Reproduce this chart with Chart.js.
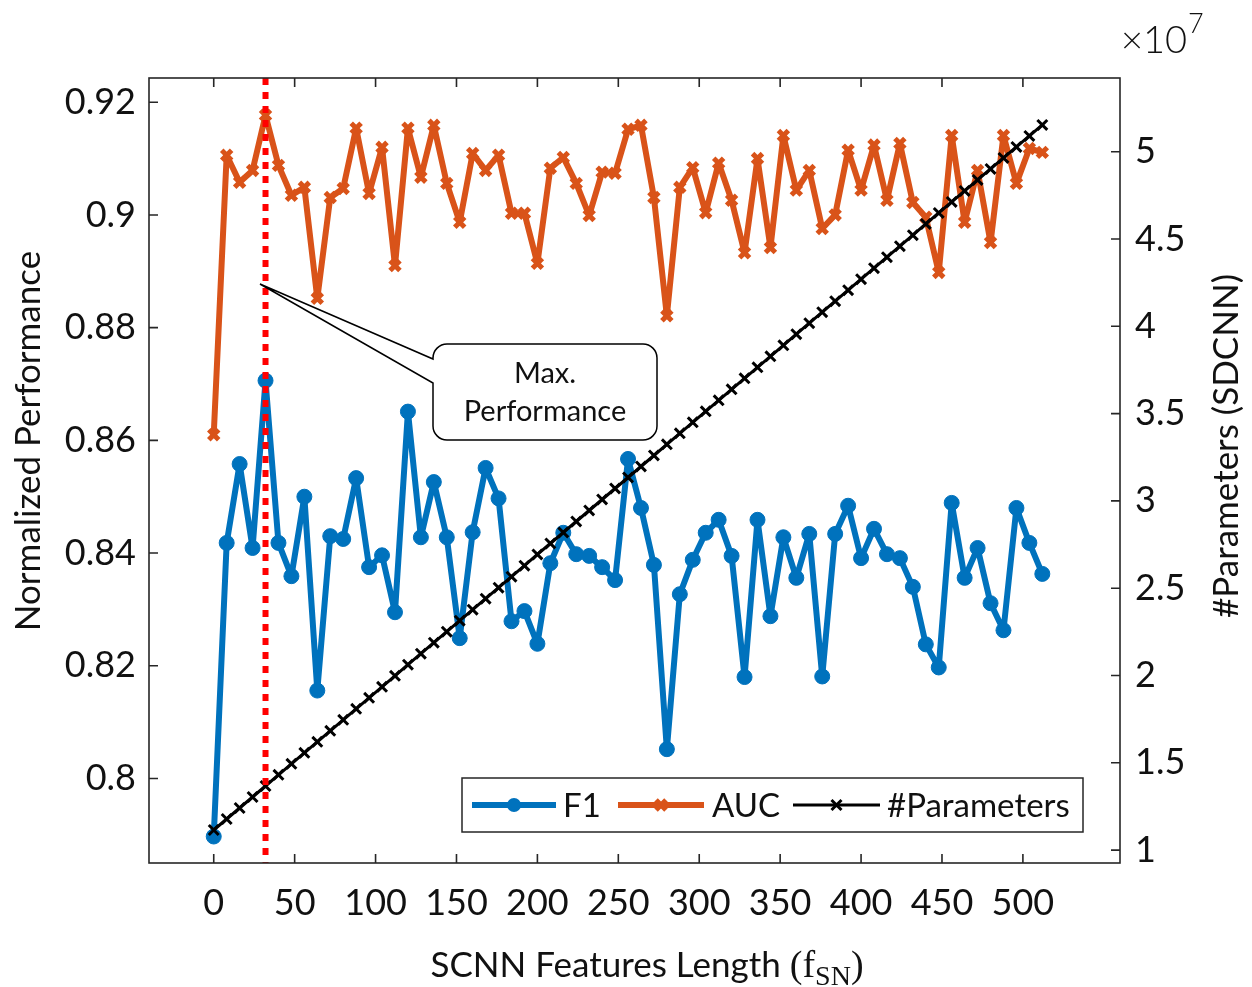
<!DOCTYPE html>
<html>
<head>
<meta charset="utf-8">
<script src="https://cdn.jsdelivr.net/npm/chart.js@4.4.1/dist/chart.umd.min.js"></script>
<style>
  html, body { margin:0; padding:0; background:#fff; }
  canvas { display:block; }
</style>
</head>
<body>
<canvas id="chart" width="1252" height="987"></canvas>
<script>
// ── data ─────────────────────────────────────
const features = [0,8,16,24,32,40,48,56,64,72,80,88,96,104,112,120,128,136,144,152,160,168,176,184,192,200,
  208,216,224,232,240,248,256,264,272,280,288,296,304,312,320,328,336,344,352,360,368,376,384,392,400,
  408,416,424,432,440,448,456,464,472,480,488,496,504,512];

const f1 = [0.7897,0.8418,0.8558,0.8409,0.8706,0.8418,0.8359,0.8500,0.8156,0.8430,0.8425,0.8533,0.8375,0.8396,
  0.8295,0.8651,0.8428,0.8526,0.8428,0.8249,0.8437,0.8551,0.8497,0.8279,0.8297,0.8239,0.8382,0.8436,0.8398,
  0.8395,0.8375,0.8352,0.8567,0.8480,0.8379,0.8052,0.8327,0.8388,0.8436,0.8459,0.8395,0.8180,0.8459,0.8288,
  0.8428,0.8356,0.8434,0.8181,0.8434,0.8484,0.8391,0.8443,0.8398,0.8391,0.8340,0.8238,0.8197,0.8489,0.8356,
  0.8409,0.8311,0.8263,0.8480,0.8418,0.8363];

const auc = [0.8610,0.9106,0.9058,0.9079,0.9177,0.9088,0.9035,0.9049,0.8852,0.9031,0.9047,0.9154,0.9038,0.9120,
  0.8910,0.9154,0.9067,0.9159,0.9056,0.8987,0.9109,0.9079,0.9106,0.9003,0.9003,0.8914,0.9083,0.9102,0.9056,
  0.8999,0.9076,0.9074,0.9152,0.9159,0.9031,0.8821,0.9049,0.9084,0.9004,0.9092,0.9026,0.8933,0.9100,0.8942,
  0.9141,0.9044,0.9079,0.8976,0.9000,0.9115,0.9044,0.9124,0.9026,0.9127,0.9022,0.8996,0.8898,0.9141,0.8987,
  0.9079,0.8951,0.9141,0.9056,0.9118,0.9111];

// #parameters, in units of 1e7
const paramsE7 = [1.115,1.178,1.241,1.304,1.367,1.431,1.494,1.557,1.620,1.683,1.746,1.809,1.872,1.935,1.998,
  2.062,2.125,2.188,2.251,2.314,2.377,2.440,2.503,2.566,2.629,2.693,2.756,2.819,2.882,2.945,3.008,3.071,3.134,
  3.197,3.260,3.324,3.387,3.450,3.513,3.576,3.639,3.702,3.765,3.828,3.891,3.955,4.018,4.081,4.144,4.207,4.270,
  4.333,4.396,4.459,4.522,4.586,4.649,4.712,4.775,4.838,4.901,4.964,5.027,5.090,5.153];

const xTicks  = [0,50,100,150,200,250,300,350,400,450,500];
const yTicks  = [0.8,0.82,0.84,0.86,0.88,0.9,0.92];
const y2Ticks = [1,1.5,2,2.5,3,3.5,4,4.5,5];

// ── style ────────────────────────────────────
const BLUE = '#0072BD', ORANGE = '#D95319', AXIS = '#262626';
const FONT = 'Lato';
const TICK_LEN = 9;

const bestX = features[f1.indexOf(Math.max(...f1))];

// frame + inward ticks (matlab style), red marker line, texts, callout, legend
const framePlugin = {
  id:'frame',
  afterDatasetsDraw(chart) {
    const {ctx, chartArea:a, scales} = chart;
    const {x, y, y2} = scales;
    ctx.save();

    // red dotted line at best feature length
    const bx = x.getPixelForValue(bestX);
    ctx.strokeStyle = '#FF0000'; ctx.lineWidth = 6; ctx.setLineDash([7,7]);
    ctx.beginPath(); ctx.moveTo(bx, a.top); ctx.lineTo(bx, a.bottom); ctx.stroke();
    ctx.setLineDash([]);

    ctx.strokeStyle = AXIS; ctx.lineWidth = 1.6;
    ctx.strokeRect(a.left, a.top, a.right - a.left, a.bottom - a.top);
    ctx.beginPath();
    xTicks.forEach(v => {
      const px = x.getPixelForValue(v);
      ctx.moveTo(px, a.bottom); ctx.lineTo(px, a.bottom - TICK_LEN);
      ctx.moveTo(px, a.top); ctx.lineTo(px, a.top + TICK_LEN);
    });
    yTicks.forEach(v => {
      const py = y.getPixelForValue(v);
      ctx.moveTo(a.left, py); ctx.lineTo(a.left + TICK_LEN, py);
    });
    y2Ticks.forEach(v => {
      const py = y2.getPixelForValue(v);
      ctx.moveTo(a.right, py); ctx.lineTo(a.right - TICK_LEN, py);
    });
    ctx.stroke();
    ctx.restore();
  },
  afterDraw(chart) {
    const {ctx} = chart;
    ctx.save();
    ctx.fillStyle = '#111';

    // axis titles
    ctx.font = `35px ${FONT}`;
    ctx.textAlign = 'center'; ctx.textBaseline = 'middle';
    ctx.save(); ctx.translate(29, 441); ctx.rotate(-Math.PI/2);
    ctx.fillText('Normalized Performance', 0, 0); ctx.restore();
    ctx.save(); ctx.translate(1227, 446); ctx.rotate(-Math.PI/2);
    ctx.fillText('#Parameters (SDCNN)', 0, 0); ctx.restore();

    // x title with subscript
    ctx.textBaseline = 'alphabetic'; ctx.textAlign = 'left';
    const parts = [
      {t:'SCNN Features Length ', f:`35px ${FONT}`, dy:0},
      {t:'(f', f:'38px "Liberation Serif"', dy:0},
      {t:'SN', f:'28px "Liberation Serif"', dy:8},
      {t:')', f:'38px "Liberation Serif"', dy:0}
    ];
    let w = 0;
    parts.forEach(p => { ctx.font = p.f; p.w = ctx.measureText(p.t).width; w += p.w; });
    let cx = 647 - w/2;
    parts.forEach(p => { ctx.font = p.f; ctx.fillText(p.t, cx, 977 + p.dy); cx += p.w; });

    // x10^7 multiplier
    ctx.font = `300 38px ${FONT}`;
    ctx.fillText('\u00d710', 1121, 53);
    const mw = ctx.measureText('\u00d710').width;
    ctx.font = `300 27px ${FONT}`;
    ctx.fillText('7', 1121 + mw + 1, 33);

    // annotation callout
    const L = 433, R = 657, T = 344, B = 440, r = 14;
    const tipX = 260, tipY = 284, j1 = 359, j2 = 383;
    ctx.beginPath();
    ctx.moveTo(L + r, T);
    ctx.lineTo(R - r, T); ctx.arcTo(R, T, R, T + r, r);
    ctx.lineTo(R, B - r); ctx.arcTo(R, B, R - r, B, r);
    ctx.lineTo(L + r, B); ctx.arcTo(L, B, L, B - r, r);
    ctx.lineTo(L, j2); ctx.lineTo(tipX, tipY); ctx.lineTo(L, j1);
    ctx.lineTo(L, T + r); ctx.arcTo(L, T, L + r, T, r);
    ctx.closePath();
    ctx.fillStyle = '#fff'; ctx.fill();
    ctx.strokeStyle = '#000'; ctx.lineWidth = 1.5; ctx.lineJoin = 'miter'; ctx.stroke();
    ctx.fillStyle = '#111';
    ctx.font = `29px ${FONT}`; ctx.textAlign = 'center'; ctx.textBaseline = 'middle';
    ctx.fillText('Max.', (L + R)/2, 374);
    ctx.fillText('Performance', (L + R)/2, 412);

    // legend
    const lx0 = 462, ly0 = 778, lx1 = 1083, ly1 = 832, lyc = (ly0 + ly1)/2;
    ctx.fillStyle = '#fff'; ctx.fillRect(lx0, ly0, lx1 - lx0, ly1 - ly0);
    ctx.strokeStyle = AXIS; ctx.lineWidth = 1.5; ctx.strokeRect(lx0, ly0, lx1 - lx0, ly1 - ly0);
    const items = [
      {label:'F1', color:BLUE, lw:6, x0:472, x1:556, tx:563, mark:'circle', mr:7},
      {label:'AUC', color:ORANGE, lw:6, x0:618, x1:704, tx:712, mark:'x', mr:5, mw:5},
      {label:'#Parameters', color:'#000', lw:3, x0:793, x1:880, tx:887, mark:'x', mr:5, mw:3}
    ];
    ctx.textAlign = 'left'; ctx.textBaseline = 'middle'; ctx.font = `33px ${FONT}`;
    items.forEach(it => {
      ctx.strokeStyle = it.color; ctx.fillStyle = it.color; ctx.lineWidth = it.lw;
      ctx.beginPath(); ctx.moveTo(it.x0, lyc); ctx.lineTo(it.x1, lyc); ctx.stroke();
      const mx = (it.x0 + it.x1)/2;
      if (it.mark === 'circle') {
        ctx.beginPath(); ctx.arc(mx, lyc, it.mr, 0, Math.PI*2); ctx.fill();
      } else {
        ctx.lineWidth = it.mw; ctx.beginPath();
        ctx.moveTo(mx - it.mr, lyc - it.mr); ctx.lineTo(mx + it.mr, lyc + it.mr);
        ctx.moveTo(mx - it.mr, lyc + it.mr); ctx.lineTo(mx + it.mr, lyc - it.mr);
        ctx.stroke();
      }
      ctx.fillStyle = '#111';
      ctx.fillText(it.label, it.tx, lyc + 1);
    });
    ctx.restore();
  }
};

const tickFont = {family: FONT, size: 36};

new Chart(document.getElementById('chart').getContext('2d'), {
  type:'line',
  data:{
    labels: features,
    datasets:[
      { label:'F1', data: features.map((f,i)=>({x:f, y:f1[i]})), yAxisID:'y',
        borderColor:BLUE, backgroundColor:BLUE, borderWidth:6, tension:0, order:3,
        borderJoinStyle:'round', borderCapStyle:'round',
        pointStyle:'circle', pointRadius:7.5, pointBorderWidth:1, pointBackgroundColor:BLUE, pointBorderColor:BLUE },
      { label:'AUC', data: features.map((f,i)=>({x:f, y:auc[i]})), yAxisID:'y',
        borderColor:ORANGE, backgroundColor:ORANGE, borderWidth:6, tension:0, order:2,
        borderJoinStyle:'round', borderCapStyle:'round',
        pointStyle:'crossRot', pointRadius:7, pointBorderWidth:5, pointBorderColor:ORANGE },
      { label:'#Parameters', data: features.map((f,i)=>({x:f, y:paramsE7[i]})), yAxisID:'y2',
        borderColor:'#000', backgroundColor:'#000', borderWidth:3, tension:0, order:1,
        borderJoinStyle:'round',
        pointStyle:'crossRot', pointRadius:7, pointBorderWidth:3, pointBorderColor:'#000' }
    ]
  },
  options:{
    responsive:false, animation:false, events:[],
    layout:{ padding:{top:78, left:0, right:0, bottom:0} },
    plugins:{ legend:{display:false}, tooltip:{enabled:false} },
    scales:{
      x:{ type:'linear', min:-40, max:560,
          grid:{display:false, drawTicks:false}, border:{display:false},
          afterBuildTicks: s => { s.ticks = xTicks.map(v => ({value:v})); },
          afterFit: s => { s.height = 124; },
          ticks:{ font:tickFont, color:'#111', padding:19, autoSkip:false, maxRotation:0,
                  callback: v => String(v) } },
      y:{ position:'left', min:0.785, max:0.9243,
          grid:{display:false, drawTicks:false}, border:{display:false},
          afterBuildTicks: s => { s.ticks = yTicks.map(v => ({value:v})); },
          afterFit: s => { s.width = 149; },
          ticks:{ font:tickFont, color:'#111', padding:13, autoSkip:false,
                  callback: v => String(+v.toFixed(2)) } },
      y2:{ position:'right', min:0.926, max:5.422,
          grid:{display:false, drawTicks:false}, border:{display:false},
          afterBuildTicks: s => { s.ticks = y2Ticks.map(v => ({value:v})); },
          afterFit: s => { s.width = 132; },
          ticks:{ font:tickFont, color:'#111', padding:15, autoSkip:false,
                  callback: v => String(v) } }
    }
  },
  plugins:[framePlugin]
});
</script>
</body>
</html>
